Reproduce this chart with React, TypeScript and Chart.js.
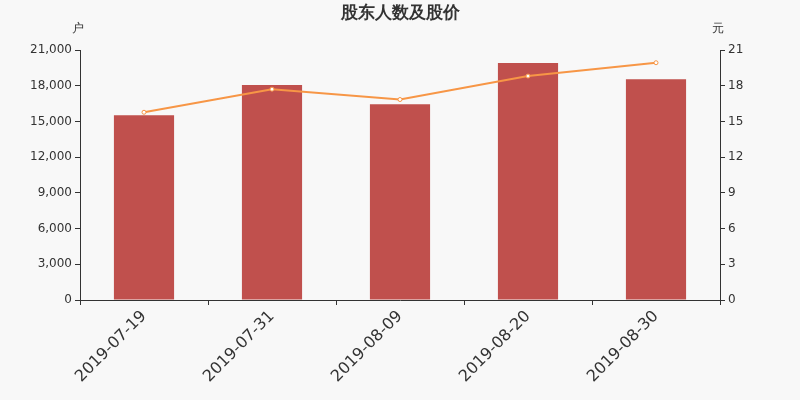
import { useEffect, useRef } from "react";
import { Chart, registerables } from "chart.js";

Chart.register(...registerables);

const dates = ["2019-07-19", "2019-07-31", "2019-08-09", "2019-08-20", "2019-08-30"];
const holders = [15520, 18050, 16440, 19900, 18550];
const prices = [15.77, 17.71, 16.84, 18.81, 19.93];

const FONT = "'DejaVu Sans', sans-serif";
const TEXT = "#333";

const decorPlugin = {
    id: "decor",
    beforeDraw(chart: Chart) {
        const { ctx, width, height } = chart;
        ctx.save();
        ctx.fillStyle = "#f8f8f8";
        ctx.fillRect(0, 0, width, height);
        ctx.restore();
    },
    afterDraw(chart: Chart) {
        const { ctx, chartArea } = chart;
        ctx.save();
        ctx.fillStyle = TEXT;
        ctx.textAlign = "center";
        ctx.textBaseline = "middle";
        ctx.font = `bold 17px ${FONT}`;
        ctx.fillText("股东人数及股价", (chartArea.left + chartArea.right) / 2, 14);
        ctx.font = `12px ${FONT}`;
        ctx.fillText("户", chartArea.left - 2, 29);
        ctx.fillText("元", chartArea.right - 2, 29);
        ctx.restore();
    },
};

export default function App() {
    const chartRef = useRef<HTMLCanvasElement | null>(null);
    const chartInstance = useRef<Chart | null>(null);

    useEffect(() => {
        document.body.style.margin = "0";
        if (!chartRef.current) return;
        const ctx = chartRef.current.getContext("2d");
        if (!ctx) return;
        if (chartInstance.current) chartInstance.current.destroy();

        chartInstance.current = new Chart(ctx, {
            type: "bar",
            data: {
                labels: dates,
                datasets: [
                    {
                        type: "line",
                        label: "股价",
                        data: prices,
                        yAxisID: "y1",
                        borderColor: "#f79646",
                        borderWidth: 2,
                        pointRadius: 2,
                        pointBorderWidth: 1,
                        pointBackgroundColor: "#fff",
                        pointBorderColor: "#f79646",
                        tension: 0,
                    },
                    {
                        type: "bar",
                        label: "股东人数",
                        data: holders,
                        yAxisID: "y",
                        backgroundColor: "#c0504d",
                        barPercentage: 0.47,
                        categoryPercentage: 1,
                    },
                ],
            },
            options: {
                animation: false,
                responsive: true,
                maintainAspectRatio: false,
                layout: { padding: { top: 50, left: 0, right: 0, bottom: 0 } },
                plugins: {
                    legend: { display: false },
                    tooltip: { enabled: false },
                    title: { display: false },
                },
                scales: {
                    x: {
                        offset: true,
                        grid: { display: true, drawOnChartArea: false, offset: true, tickLength: 5, color: TEXT },
                        border: { color: TEXT },
                        ticks: {
                            color: TEXT,
                            font: { family: FONT, size: 16 },
                            minRotation: 45,
                            maxRotation: 45,
                            padding: 2,
                        },
                        afterFit(scale: any) {
                            scale.height = 100;
                        },
                    },
                    y: {
                        position: "left",
                        min: 0,
                        max: 21000,
                        grid: { display: true, drawOnChartArea: false, tickLength: 5, color: TEXT },
                        border: { color: TEXT },
                        ticks: {
                            stepSize: 3000,
                            color: TEXT,
                            font: { family: FONT, size: 12 },
                            padding: 3,
                            callback: (v: any) => Number(v).toLocaleString("en-US"),
                        },
                        afterFit(scale: any) {
                            scale.width = 80;
                        },
                    },
                    y1: {
                        position: "right",
                        min: 0,
                        max: 21,
                        grid: { display: true, drawOnChartArea: false, tickLength: 5, color: TEXT },
                        border: { color: TEXT },
                        ticks: {
                            stepSize: 3,
                            color: TEXT,
                            font: { family: FONT, size: 12 },
                            padding: 3,
                        },
                        afterFit(scale: any) {
                            scale.width = 80;
                        },
                    },
                },
            },
            plugins: [decorPlugin],
        });

        return () => {
            if (chartInstance.current) {
                chartInstance.current.destroy();
                chartInstance.current = null;
            }
        };
    }, []);

    return (
        <div style={{ width: 800, height: 400, position: "relative" }}>
            <canvas ref={chartRef}></canvas>
        </div>
    );
}
